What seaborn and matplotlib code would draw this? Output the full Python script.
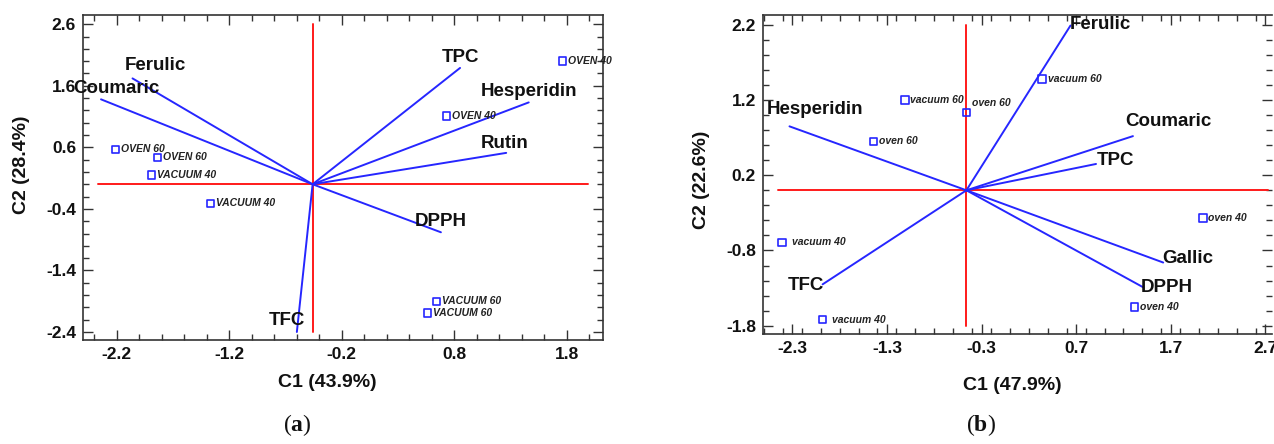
import numpy as np
import pandas as pd
import matplotlib
matplotlib.use("Agg")
import matplotlib.pyplot as plt
from matplotlib.ticker import MultipleLocator, FixedLocator
import seaborn as sns

# ---------------- data: panel (a) ----------------
a_vars = ["Ferulic", "Coumaric", "TPC", "Hesperidin", "Rutin", "DPPH", "TFC"]
a_vec_x = [-2.06, -2.34, 0.85, 1.46, 1.26, 0.68, -0.60]
a_vec_y = [1.72, 1.38, 1.89, 1.33, 0.51, -0.78, -2.40]
a_lab_x = [-1.86, -2.20, 0.85, 1.46, 1.25, 0.68, -0.69]
a_lab_y = [1.93, 1.55, 2.06, 1.50, 0.67, -0.61, -2.21]
a_origin = (-0.46, 0.0)
a_samples = ["OVEN 40", "OVEN 40", "OVEN 60", "OVEN 60", "VACUUM 40", "VACUUM 40", "VACUUM 60", "VACUUM 60"]
a_pt_x = [1.76, 0.73, -2.21, -1.84, -1.89, -1.37, 0.64, 0.56]
a_pt_y = [2.00, 1.11, 0.57, 0.44, 0.15, -0.31, -1.90, -2.09]
a_xticks = [-2.2, -1.2, -0.2, 0.8, 1.8]
a_yticks = [2.6, 1.6, 0.6, -0.4, -1.4, -2.4]
a_xlabel = "C1 (43.9%)"
a_ylabel = "C2 (28.4%)"

# ---------------- data: panel (b) ----------------
b_vars = ["Ferulic", "Coumaric", "TPC", "Hesperidin", "Gallic", "DPPH", "TFC"]
b_vec_x = [0.64, 1.30, 0.91, -2.33, 1.62, 1.41, -1.98]
b_vec_y = [2.19, 0.72, 0.35, 0.85, -0.96, -1.29, -1.25]
b_lab_x = [0.96, 1.67, 1.12, -2.06, 1.88, 1.66, -2.16]
b_lab_y = [2.20, 0.91, 0.40, 1.07, -0.91, -1.29, -1.27]
b_origin = (-0.46, 0.0)
b_samples = ["vacuum 60", "oven 60", "oven 60", "vacuum 60", "oven 40", "oven 40", "vacuum 40", "vacuum 40"]
b_pt_x = [-1.11, -1.44, -0.46, 0.34, 2.04, 1.32, -2.41, -1.98]
b_pt_y = [1.20, 0.65, 1.03, 1.48, -0.37, -1.55, -0.69, -1.72]
b_xticks = [-2.3, -1.3, -0.3, 0.7, 1.7, 2.7]
b_yticks = [2.2, 1.2, 0.2, -0.8, -1.8]
b_xlabel = "C1 (47.9%)"
b_ylabel = "C2 (22.6%)"

# ---------------- style ----------------
sns.set_theme(style="ticks")
plt.rcParams["font.family"] = ["Liberation Sans", "DejaVu Sans"]
plt.rcParams["mathtext.fontset"] = "custom"
plt.rcParams["mathtext.rm"] = "Liberation Serif"
plt.rcParams["mathtext.bf"] = "Liberation Serif:bold"

BLUE = "#2626ff"
RED = "#ff1a1a"
SPINE = "#333333"

fig = plt.figure(figsize=(12.74, 4.44), dpi=100)
W, H = 1274, 444


def px_axes(l, t, r, b):
    return fig.add_axes([l / W, 1 - b / H, (r - l) / W, (b - t) / H])


def panel(ax, vars_, vx, vy, lx, ly, origin, samples, px, py, xticks, yticks,
          xlim, ylim, redx, redy, pt_offsets, upper):
    # reference cross
    ax.plot(redx, [origin[1], origin[1]], color=RED, lw=1.4, zorder=1)
    ax.plot([origin[0], origin[0]], redy, color=RED, lw=1.4, zorder=1)
    # loading vectors
    for x, y in zip(vx, vy):
        ax.plot([origin[0], x], [origin[1], y], color=BLUE, lw=1.4, zorder=2)
    for name, x, y in zip(vars_, lx, ly):
        ax.text(x, y, name, fontsize=13.5, fontweight="bold", color="#111111",
                ha="center", va="center", zorder=4)
    # samples
    df = pd.DataFrame({"x": px, "y": py, "s": samples})
    sns.scatterplot(data=df, x="x", y="y", ax=ax, marker="s", s=28,
                    facecolor="none", edgecolor=BLUE, linewidth=1.2, zorder=3,
                    legend=False)
    for (x, y, s), off in zip(zip(px, py, samples), pt_offsets):
        ax.annotate(s.upper() if upper else s, (x, y), xytext=off,
                    textcoords="offset points", fontsize=7.5,
                    fontweight="bold", fontstyle="italic", color="#222222",
                    ha="left", va="center", zorder=4)
    ax.set_xlim(*xlim)
    ax.set_ylim(*ylim)
    ax.xaxis.set_major_locator(FixedLocator(xticks))
    ax.yaxis.set_major_locator(FixedLocator(yticks))
    ax.xaxis.set_minor_locator(MultipleLocator(0.2))
    ax.yaxis.set_minor_locator(MultipleLocator(0.2))
    ax.set_xticklabels([f"{t:.1f}" for t in xticks])
    ax.set_yticklabels([f"{t:.1f}" for t in yticks])
    ax.tick_params(which="both", direction="in", top=True, right=True,
                   color=SPINE, width=1.0)
    ax.tick_params(which="major", length=7, labelsize=12.5, pad=5)
    ax.tick_params(which="minor", length=4)
    for lab in ax.get_xticklabels() + ax.get_yticklabels():
        lab.set_fontweight("bold")
        lab.set_color("#111111")
    for sp in ax.spines.values():
        sp.set_color(SPINE)
        sp.set_linewidth(1.2)
    ax.set_xlabel("")
    ax.set_ylabel("")


ax1 = px_axes(83, 15, 603, 340)
panel(ax1, a_vars, a_vec_x, a_vec_y, a_lab_x, a_lab_y, a_origin, a_samples,
      a_pt_x, a_pt_y, a_xticks, a_yticks, (-2.50, 2.12), (-2.53, 2.75),
      [-2.37, 1.99], [-2.4, 2.6],
      [(4, 0)] * 8, True)

ax2 = px_axes(763, 15, 1272, 334)
panel(ax2, b_vars, b_vec_x, b_vec_y, b_lab_x, b_lab_y, b_origin, b_samples,
      b_pt_x, b_pt_y, b_xticks, b_yticks, (-2.61, 2.77), (-1.91, 2.33),
      [-2.45, 2.73], [-1.8, 2.2],
      [(4, 0), (4, 0), (4, 7), (4, 0), (4, 0), (4, 0), (7, 0), (7, 0)], False)
ax2.spines["right"].set_visible(False)

# axis titles
fig.text(327 / W, 1 - 382 / H, a_xlabel, fontsize=14, fontweight="bold",
         ha="center", va="center", color="#111111")
fig.text(22 / W, 1 - 165 / H, a_ylabel, fontsize=14, fontweight="bold",
         rotation=90, ha="center", va="center", color="#111111")
fig.text(1012 / W, 1 - 385 / H, b_xlabel, fontsize=14, fontweight="bold",
         ha="center", va="center", color="#111111")
fig.text(702 / W, 1 - 180 / H, b_ylabel, fontsize=14, fontweight="bold",
         rotation=90, ha="center", va="center", color="#111111")

# panel letters
for xc, letter in [(297, "a"), (981, "b")]:
    fig.text(xc / W, 1 - 425 / H, "($\\mathbf{" + letter + "}$)", fontsize=17,
             family=["Liberation Serif", "DejaVu Serif"], ha="center",
             va="center", color="#111111")

fig.savefig("out.png", dpi=100)
